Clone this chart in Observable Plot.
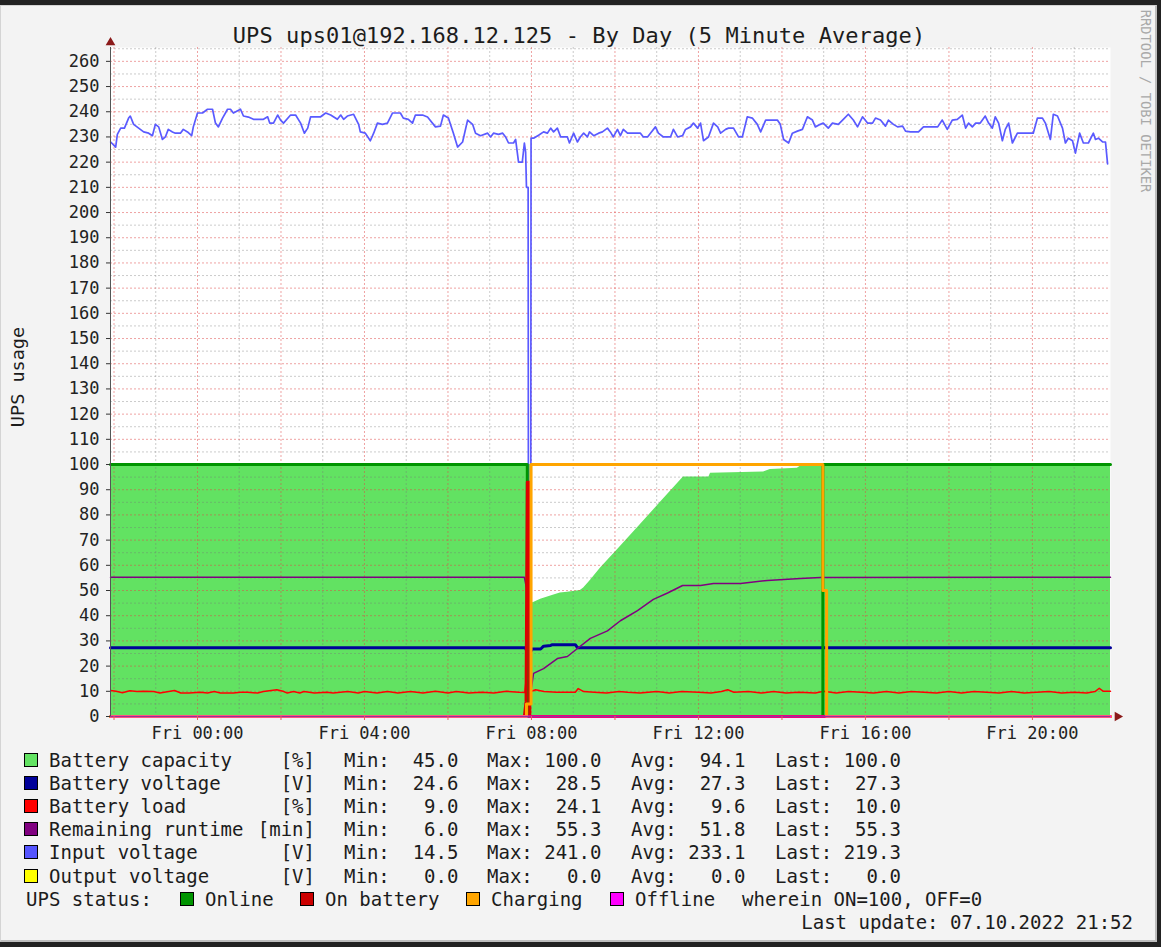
<!DOCTYPE html>
<html>
<head>
<meta charset="utf-8">
<script src="https://cdn.jsdelivr.net/npm/d3@7"></script>
<script src="https://cdn.jsdelivr.net/npm/@observablehq/plot@0.6"></script>
<style>
  html, body { margin: 0; padding: 0; width: 1161px; height: 947px; overflow: hidden; background: #222222; }
  #page { position: absolute; left: 0; top: 5px; width: 1157px; height: 937px; box-sizing: border-box;
          background: #f3f3f3; border-top: 1px solid #d4d4d4; border-left: 1px solid #d4d4d4;
          border-right: 2px solid #bdbdbd; border-bottom: 2px solid #bdbdbd; }
  #chart { position: absolute; left: 0; top: 0; }
  .t { position: absolute; font-family: "DejaVu Sans Mono", monospace; color: #1c1c1c; white-space: pre;
       line-height: normal; transform: translateY(-50%); }
  .sw { position: absolute; width: 12px; height: 12px; border: 1px solid #000; }
</style>
</head>
<body>
<div id="page"></div>
<script>
// ---------------- data (time = hours relative to Fri 07.10.2022 00:00) ----------------
const xDomainHours = [-2.084, 21.87];
const yDomain = [0, 265.5];
const yTicks = [0, 10, 20, 30, 40, 50, 60, 70, 80, 90, 100, 110, 120, 130, 140, 150, 160, 170, 180, 190, 200, 210, 220, 230, 240, 250, 260];
const xTickHours = [0, 4, 8, 12, 16, 20];
const xTickLabels = ["Fri 00:00", "Fri 04:00", "Fri 08:00", "Fri 12:00", "Fri 16:00", "Fri 20:00"];

const batteryCapacity = [[-2.084,100],[7.98,100],[8.0,45],[8.05,45.2],[8.22,46.5],[8.50,48],[8.69,49],[8.86,49.3],[9.17,50],[9.25,51],[9.41,54],[9.65,58.8],[10.13,67.5],[10.61,76.2],[11.09,85],[11.64,95],[12.25,95],[12.29,96.5],[13.56,97],[13.72,98],[14.37,98.5],[14.44,99.3],[14.97,99.3],[14.99,100],[21.87,100]];

const batteryVoltage = [[-2.084,27.3],[7.85,27.3],[7.93,24.6],[8.02,26.8],[8.22,26.8],[8.29,27.9],[8.46,28.2],[8.50,28.5],[9.05,28.5],[9.10,27.3],[21.87,27.3]];

const batteryLoad = [[-2.08,10.3],[-1.95,10.0],[-1.80,9.4],[-1.62,10.2],[-1.45,9.9],[-1.30,10.0],[-1.05,9.9],[-0.90,9.3],[-0.55,10.3],[-0.40,9.3],[-0.20,9.3],[0.07,9.6],[0.24,9.3],[0.40,9.9],[0.55,9.3],[0.86,9.3],[1.03,9.6],[1.20,9.6],[1.44,9.3],[1.58,9.9],[1.90,10.6],[2.05,10.0],[2.15,9.3],[2.30,9.9],[2.45,9.3],[2.55,9.9],[2.80,9.3],[3.10,9.6],[3.25,9.3],[3.60,9.9],[3.85,9.3],[4.00,9.9],[4.30,9.3],[4.55,9.9],[4.80,9.3],[5.10,9.9],[5.40,9.3],[5.70,10.0],[6.00,9.3],[6.20,9.9],[6.50,9.3],[6.80,9.6],[7.10,9.3],[7.40,10.0],[7.70,9.6],[7.84,9.5],[7.93,24.1],[8.00,10.0],[8.10,10.6],[8.30,9.9],[8.60,9.6],[9.05,9.6],[9.12,11.1],[9.25,9.9],[9.50,9.6],[9.80,9.3],[10.10,9.9],[10.30,9.6],[10.60,9.3],[11.00,9.9],[11.30,9.3],[11.60,9.9],[12.00,9.6],[12.30,9.3],[12.55,9.9],[12.70,10.6],[12.85,9.6],[13.20,9.9],[13.50,9.3],[13.80,9.9],[14.10,9.3],[14.40,9.6],[14.80,9.3],[15.00,10.0],[15.30,9.3],[15.60,9.9],[15.90,9.6],[16.20,9.3],[16.50,9.9],[16.80,9.3],[17.10,9.9],[17.40,9.6],[17.70,9.3],[18.00,9.9],[18.30,9.3],[18.60,9.9],[18.90,9.6],[19.20,9.3],[19.50,9.9],[19.80,9.3],[20.10,9.6],[20.40,9.9],[20.70,9.3],[21.00,9.6],[21.30,9.3],[21.50,9.9],[21.60,11.2],[21.70,10.0],[21.87,10.0]];

const remainingRuntime = [[-2.084,55.3],[7.83,55.3],[7.88,51],[7.95,6],[8.05,17.1],[8.29,19],[8.62,23],[8.86,23.8],[9.10,27],[9.41,31],[9.82,34],[10.13,38],[10.54,42],[10.92,46.5],[11.26,49],[11.62,52],[12.05,52],[12.36,52.8],[13.01,52.8],[13.65,54],[14.44,54.8],[14.92,55.2],[21.87,55.3]];

const inputVoltage = [[-2.08,228],[-1.96,226],[-1.92,231],[-1.84,233.5],[-1.75,233.5],[-1.65,237.5],[-1.61,238.3],[-1.53,235],[-1.37,233],[-1.29,232],[-1.17,231.5],[-1.08,230.5],[-1.01,235],[-0.93,234],[-0.84,229],[-0.77,230],[-0.70,233],[-0.60,232],[-0.53,231.5],[-0.41,231.5],[-0.34,233],[-0.24,232],[-0.14,230.5],[-0.10,234],[0.00,239.5],[0.12,239.5],[0.24,241],[0.36,241],[0.43,235.5],[0.50,234],[0.60,237.5],[0.72,241],[0.79,241],[0.86,239.5],[1.03,241],[1.10,238.3],[1.22,237.9],[1.34,237],[1.58,237],[1.68,238],[1.73,235.5],[1.82,235.5],[1.92,238.7],[1.99,236.7],[2.06,235.5],[2.23,238.7],[2.35,238.7],[2.47,235.5],[2.56,231.5],[2.64,233.5],[2.71,238],[2.95,238],[3.07,239.5],[3.19,238.7],[3.35,237],[3.43,238.7],[3.50,237],[3.59,238.3],[3.74,239],[3.86,235],[3.90,232],[4.02,231.5],[4.14,228.5],[4.22,231.5],[4.31,235.5],[4.43,235],[4.55,235.5],[4.67,239.5],[4.86,239.5],[4.93,237.5],[5.05,237],[5.15,235.5],[5.22,238.7],[5.39,238.7],[5.51,237.9],[5.70,234],[5.82,234.3],[5.89,238.7],[6.01,237.5],[6.13,231.5],[6.23,226],[6.35,228],[6.47,236.7],[6.59,235],[6.66,231.5],[6.78,230.5],[6.95,231.5],[7.02,230],[7.09,231.5],[7.21,231],[7.31,231.5],[7.38,230],[7.45,227.6],[7.57,227.6],[7.62,229],[7.69,220],[7.78,220],[7.83,227.6],[7.86,224],[7.88,210],[7.92,210],[7.93,14.5],[7.98,14.5],[7.99,229.5],[8.05,229.5],[8.17,230.7],[8.29,232],[8.38,231.5],[8.46,233.5],[8.53,232],[8.62,233.5],[8.70,230],[8.86,230],[8.91,227.6],[9.01,231.5],[9.10,228],[9.17,230],[9.25,231.5],[9.34,230],[9.39,232],[9.49,230.5],[9.61,231.5],[9.70,232],[9.82,233.5],[9.89,232],[9.96,230],[10.06,233],[10.13,230.5],[10.20,233],[10.30,231.5],[10.44,231.5],[10.61,231.5],[10.68,230],[10.78,230],[10.85,231.5],[10.97,234],[11.04,231.5],[11.16,230],[11.33,230],[11.40,233],[11.50,230],[11.62,230.5],[11.69,233],[11.81,234],[11.88,235.5],[11.98,233.5],[12.05,235.5],[12.12,228.5],[12.24,230],[12.36,235.5],[12.46,234],[12.53,231.5],[12.65,233],[12.72,233.5],[12.84,233.5],[12.96,230],[13.05,230],[13.17,238],[13.29,237.5],[13.41,235],[13.49,232],[13.61,236.7],[13.89,236.7],[13.96,235],[14.04,229],[14.16,227.6],[14.25,231.5],[14.37,232.3],[14.49,233],[14.61,238],[14.73,236.7],[14.80,234],[14.92,235],[14.99,235.5],[15.11,233.5],[15.21,235.5],[15.35,235],[15.47,237],[15.59,239],[15.71,236.7],[15.81,234],[15.93,238],[16.05,235.5],[16.17,235.5],[16.24,237.5],[16.36,236.7],[16.48,234.3],[16.55,236.7],[16.67,235],[16.77,234],[16.89,234.3],[16.96,232.3],[17.08,232],[17.27,232],[17.39,234],[17.73,234],[17.84,236.7],[17.96,233],[18.08,236.7],[18.20,237],[18.32,238.7],[18.40,233.5],[18.47,235.5],[18.56,234],[18.64,235.5],[18.75,235.5],[18.87,238.3],[18.95,235.5],[19.04,233.5],[19.11,238],[19.19,235.5],[19.28,228.5],[19.35,233],[19.43,235.5],[19.52,227.6],[19.64,231.5],[20.02,231.5],[20.12,237.5],[20.24,237.5],[20.31,235.5],[20.43,229],[20.50,239],[20.60,238.3],[20.72,233.5],[20.79,227.6],[20.86,229.5],[20.96,228.5],[21.03,223.6],[21.13,231.5],[21.22,227.6],[21.34,227.6],[21.46,231.5],[21.51,229],[21.58,229.5],[21.68,228],[21.75,228],[21.80,219.3]];

const outputVoltage = [[-2.084,0],[21.87,0]];

const statusOnline = [[-2.084,100],[7.90,0],[14.98,100],[21.87,100]];
const statusOnBattery = [[-2.084,0],[7.83,0],[7.87,6],[7.90,93],[7.95,93],[7.96,0],[21.87,0]];
const statusCharging = [[-2.084,0],[7.88,5],[7.99,100],[14.98,50],[15.07,0],[21.87,0]];
const statusOffline = [[-2.084,0],[21.87,0]];

const legendNames = ["Battery capacity", "Battery voltage", "Battery load", "Remaining runtime", "Input voltage", "Output voltage"];
const legendUnits = ["[%]", "[V]", "[%]", "[min]", "[V]", "[V]"];
const legendMin  = [45.0, 24.6, 9.0, 6.0, 14.5, 0.0];
const legendMax  = [100.0, 28.5, 24.1, 55.3, 241.0, 0.0];
const legendAvg  = [94.1, 27.3, 9.6, 51.8, 233.1, 0.0];
const legendLast = [100.0, 27.3, 10.0, 55.3, 219.3, 0.0];
const seriesColors = ["#62e262", "#000099", "#ff0000", "#800080", "#5555ff", "#ffff00"];
const statusNames = ["Online", "On battery", "Charging", "Offline"];
const statusColors = ["#009400", "#cc0000", "#ffa500", "#ff00ff"];
const titleText = "UPS ups01@192.168.12.125 - By Day (5 Minute Average)";
const yLabelText = "UPS usage";
const noteText = "wherein ON=100, OFF=0";
const updateText = "Last update: 07.10.2022 21:52";
const watermarkText = "RRDTOOL / TOBI OETIKER";

// ---------------- chart ----------------
const T0 = Date.UTC(2022, 9, 7, 0, 0, 0);
const toDate = h => new Date(T0 + h * 3600000);
const X = d => toDate(d[0]);
const Y = d => d[1];

const majorGridHours = d3.range(-2, 22, 2);
const minorGridHours = d3.range(-1, 22, 2);
const minorYTicks = d3.range(5, 266, 10);
const tickLabelOf = new Map(xTickHours.map((h, i) => [+toDate(h), xTickLabels[i]]));

const chart = Plot.plot({
  width: 1161, height: 760,
  marginLeft: 110, marginRight: 51, marginTop: 47, marginBottom: 44,
  style: { background: "transparent", fontFamily: "'DejaVu Sans Mono', monospace", fontSize: "17px", color: "#222", overflow: "visible" },
  x: { type: "utc", domain: xDomainHours.map(toDate) },
  y: { domain: yDomain },
  marks: [
    Plot.frame({ fill: "white", stroke: "none" }),
    Plot.areaY(batteryCapacity, { x: X, y: Y, fill: seriesColors[0] }),
    Plot.gridY(minorYTicks, { stroke: "#777", strokeOpacity: 0.38, strokeDasharray: "2,2" }),
    Plot.gridX(minorGridHours.map(toDate), { stroke: "#777", strokeOpacity: 0.38, strokeDasharray: "2,2" }),
    Plot.gridY(yTicks, { stroke: "#e04848", strokeOpacity: 0.5, strokeDasharray: "2,2" }),
    Plot.gridX(majorGridHours.map(toDate), { stroke: "#e04848", strokeOpacity: 0.5, strokeDasharray: "2,2" }),
    Plot.line(batteryVoltage, { x: X, y: Y, stroke: seriesColors[1], strokeWidth: 3 }),
    Plot.line(batteryLoad, { x: X, y: Y, stroke: seriesColors[2], strokeWidth: 1.5 }),
    Plot.line(remainingRuntime, { x: X, y: Y, stroke: seriesColors[3], strokeWidth: 1.5 }),
    Plot.line(inputVoltage, { x: X, y: Y, stroke: "#5a5aff", strokeWidth: 1.7 }),
    Plot.line(outputVoltage, { x: X, y: Y, stroke: seriesColors[5], strokeWidth: 1.5 }),
    Plot.line(statusOnline, { x: X, y: Y, stroke: statusColors[0], strokeWidth: 3, curve: "step-after" }),
    Plot.line(statusOnBattery, { x: X, y: Y, stroke: "#dd0000", strokeWidth: 3 }),
    Plot.line(statusCharging, { x: X, y: Y, stroke: statusColors[2], strokeWidth: 3, curve: "step-after" }),
    Plot.line(statusOffline, { x: X, y: Y, stroke: statusColors[3], strokeWidth: 2 }),
    Plot.ruleY([0], { stroke: "#505050", strokeOpacity: 0.6 }),
    Plot.ruleX([toDate(xDomainHours[0])], { stroke: "#555" }),
    Plot.axisY(yTicks, { anchor: "left", tickSize: 4, tickPadding: 7, label: null, stroke: "#333" }),
    Plot.axisX(majorGridHours.map(toDate), { anchor: "bottom", tickSize: 4, tickFormat: () => "", label: null, stroke: "#e06060" }),
    Plot.axisX(xTickHours.map(toDate), { anchor: "bottom", tickSize: 0, tickPadding: 10, label: null, tickFormat: d => tickLabelOf.get(+d) }),
    Plot.dot([0], { frameAnchor: "top-left", dy: -5, symbol: "triangle", r: 3.6, fill: "#8b1a1a", stroke: "none" }),
    Plot.dot([0], { frameAnchor: "bottom-right", dx: 7, symbol: "triangle", r: 3.6, rotate: 90, fill: "#8b1a1a", stroke: "none" })
  ]
});
chart.id = "chart";
document.body.appendChild(chart);

// ---------------- text: title, labels, legend ----------------
function addText(str, opts) {
  const el = document.createElement("div");
  el.className = "t";
  el.textContent = str;
  el.style.fontSize = (opts.size || 19) + "px";
  el.style.top = opts.y + "px";
  if (opts.right !== undefined) { el.style.right = (1161 - opts.right) + "px"; el.style.textAlign = "right"; }
  else el.style.left = opts.x + "px";
  if (opts.transform) el.style.transform = opts.transform;
  if (opts.color) el.style.color = opts.color;
  if (opts.ls) el.style.letterSpacing = opts.ls + "px";
  document.body.appendChild(el);
  return el;
}
function addSwatch(x, cy, color) {
  const s = document.createElement("div");
  s.className = "sw";
  s.style.left = x + "px";
  s.style.top = (cy - 7) + "px";
  s.style.background = color;
  document.body.appendChild(s);
}

addText(titleText, { x: 579, y: 35, size: 22, ls: 0.07, transform: "translate(-50%, -50%)" });
addText(yLabelText, { x: 17, y: 377, size: 18.5, transform: "translate(-50%, -50%) rotate(-90deg)" });
addText(watermarkText, { x: 1146, y: 101, size: 13.8, color: "#a9a9a9", transform: "translate(-50%, -50%) rotate(90deg)" });

const rowY = [760, 783, 806, 829, 852, 876];
const fmt = v => v.toFixed(1).padStart(5, " ");
legendNames.forEach((name, i) => {
  const cy = rowY[i];
  addSwatch(24, cy, seriesColors[i]);
  addText(name, { x: 49, y: cy });
  addText(legendUnits[i], { right: 315, y: cy });
  addText("Min: " + fmt(legendMin[i]), { x: 344, y: cy });
  addText("Max: " + fmt(legendMax[i]), { x: 487, y: cy });
  addText("Avg: " + fmt(legendAvg[i]), { x: 631, y: cy });
  addText("Last: " + fmt(legendLast[i]), { x: 775, y: cy });
});
const sy = 899;
addText("UPS status:", { x: 26, y: sy });
const swX = [180, 300, 466, 610];
statusNames.forEach((n, i) => {
  addSwatch(swX[i], sy, statusColors[i]);
  addText(n, { x: swX[i] + 25, y: sy });
});
addText(noteText, { x: 742, y: sy });
addText(updateText, { right: 1133, y: 922 });
</script>
</body>
</html>
